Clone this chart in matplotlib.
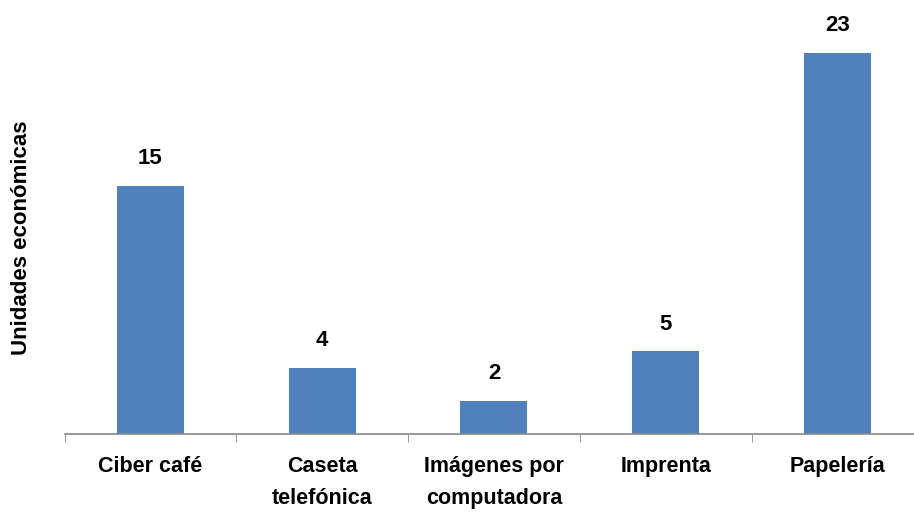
import matplotlib.pyplot as plt
import numpy as np

categories = ['Ciber café', 'Caseta\ntelefónica', 'Imágenes por\ncomputadora', 'Imprenta', 'Papelería']
values = [15, 4, 2, 5, 23]

plt.rcParams['font.family'] = ['Liberation Sans Narrow', 'Liberation Sans', 'DejaVu Sans']

fig = plt.figure(figsize=(9.14, 5.15), dpi=100)
ax = fig.add_axes([0.0707, 0.157, 0.9395, 0.843])

x = np.arange(len(values))
bars = ax.bar(x, values, width=0.39, color='#4f81bd')
for b, v in zip(bars, values):
    ax.text(b.get_x() + b.get_width() / 2, v + 1.0, str(v), ha='center', va='bottom',
            fontsize=16, fontweight='bold')

ax.set_xlim(-0.5, len(values) - 0.5)
ax.set_ylim(0, 26.2)
ax.set_xticks(x)
ax.set_xticklabels(categories, fontsize=15.5, fontweight='bold', linespacing=1.65)
ax.tick_params(axis='x', which='major', length=0, pad=16)
ax.set_xticks(np.arange(-0.5, len(values)), minor=True)
ax.tick_params(axis='x', which='minor', length=6, color='#888888', direction='out')
ax.set_yticks([])

for s in ['top', 'right', 'left']:
    ax.spines[s].set_visible(False)
ax.spines['bottom'].set_color('#888888')
ax.spines['bottom'].set_linewidth(1.2)

ax.set_ylabel('Unidades económicas', fontsize=16, fontweight='bold')
ax.yaxis.set_label_coords(-0.038, 0.452)

plt.savefig('out.png', dpi=100)
